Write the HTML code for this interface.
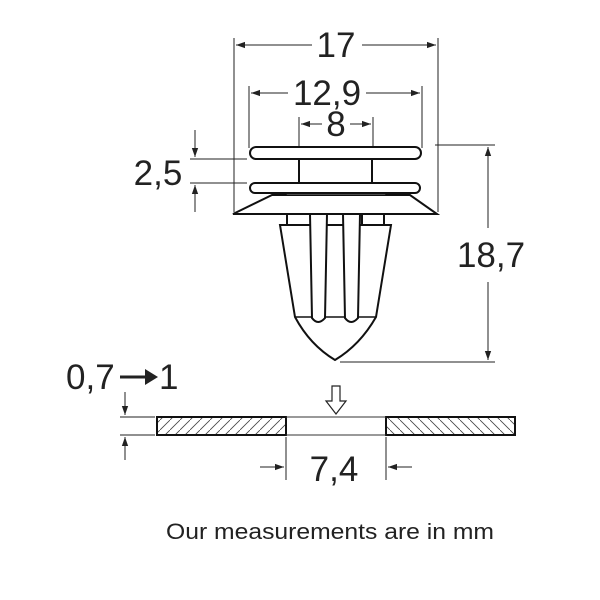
<!DOCTYPE html>
<html><head><style>body{margin:0;background:#fff}svg{display:block}text{font-family:"Liberation Sans",sans-serif;fill:#222}</style></head>
<body>
<svg width="600" height="600" viewBox="0 0 600 600" xmlns="http://www.w3.org/2000/svg">
<defs>
<marker id="a" viewBox="0 0 10 10" refX="10" refY="5" markerWidth="9" markerHeight="9" orient="auto-start-reverse"><path d="M0,1.5 L10,5 L0,8.5z" fill="#222"/></marker>
<pattern id="h1" width="10" height="10" patternUnits="userSpaceOnUse"><path d="M0,10 L10,0" stroke="#444" stroke-width="0.8"/></pattern>
<pattern id="h2" width="10" height="10" patternUnits="userSpaceOnUse"><path d="M0,0 L10,10" stroke="#444" stroke-width="0.8"/></pattern>
</defs>
<g stroke="#222" stroke-width="1" fill="none">
<line x1="234" y1="38" x2="234" y2="212"/><line x1="438" y1="38" x2="438" y2="212"/>
<line x1="312" y1="45" x2="236" y2="45" marker-end="url(#a)"/>
<line x1="362" y1="45" x2="436" y2="45" marker-end="url(#a)"/>
<line x1="249" y1="86" x2="249" y2="148"/><line x1="422" y1="86" x2="422" y2="148"/>
<line x1="288" y1="93" x2="251" y2="93" marker-end="url(#a)"/>
<line x1="366" y1="93" x2="420" y2="93" marker-end="url(#a)"/>
<line x1="299" y1="117" x2="299" y2="160"/><line x1="373" y1="117" x2="373" y2="160"/>
<line x1="322" y1="124" x2="301" y2="124" marker-end="url(#a)"/>
<line x1="350" y1="124" x2="371" y2="124" marker-end="url(#a)"/>
<line x1="190" y1="159" x2="247" y2="159"/><line x1="190" y1="183" x2="247" y2="183"/>
<line x1="195" y1="130" x2="195" y2="157" marker-end="url(#a)"/>
<line x1="195" y1="212" x2="195" y2="185" marker-end="url(#a)"/>
<line x1="435" y1="145" x2="495" y2="145"/><line x1="340" y1="362" x2="495" y2="362"/>
<line x1="488" y1="228" x2="488" y2="147" marker-end="url(#a)"/>
<line x1="488" y1="282" x2="488" y2="360" marker-end="url(#a)"/>
<line x1="120" y1="417" x2="155" y2="417"/><line x1="120" y1="435" x2="155" y2="435"/>
<line x1="125" y1="392" x2="125" y2="415" marker-end="url(#a)"/>
<line x1="125" y1="460" x2="125" y2="437" marker-end="url(#a)"/>
<line x1="286" y1="437" x2="286" y2="480"/><line x1="386" y1="437" x2="386" y2="480"/>
<line x1="260" y1="467" x2="284" y2="467" marker-end="url(#a)"/>
<line x1="412" y1="467" x2="388" y2="467" marker-end="url(#a)"/>
</g>
<g stroke="#111" stroke-width="2" fill="#fff">
<path d="M287,214 L287,227 L311,227 L311,214 M362,214 L362,227 L384,227 L384,214"/>
<path d="M280,225 L391,225 L376,317 Q360,345 335,360 Q310,345 295,317 Z"/>
<line x1="295" y1="317" x2="376" y2="317" stroke-width="1.5"/>
<path d="M310,214 L312,318 Q318,326 325,318 L327,214 M343,214 L345,318 Q351,326 358,318 L360,214" />
<path d="M272,195 L410,195 L437,214 L233,214 Z"/>
<rect x="286" y="191" width="100" height="4" stroke-width="1.5"/>
<rect x="299" y="158" width="73" height="26"/>
<rect x="250" y="147" width="171" height="12" rx="6"/>
<rect x="250" y="183" width="170" height="10" rx="5"/>
</g>
<rect x="157" y="417" width="129" height="18" fill="url(#h1)" stroke="#111" stroke-width="2"/>
<rect x="386" y="417" width="129" height="18" fill="url(#h2)" stroke="#111" stroke-width="2"/>
<line x1="286" y1="417" x2="386" y2="417" stroke="#333"/><line x1="286" y1="435" x2="386" y2="435" stroke="#333"/>
<path d="M332,386 L340,386 L340,401 L346,401 L336,414 L326,401 L332,401 Z" fill="#fff" stroke="#222" stroke-width="1.2"/>
<g font-size="35">
<text x="336" y="57" text-anchor="middle">17</text>
<text x="327" y="105" text-anchor="middle">12,9</text>
<text x="336" y="136" text-anchor="middle">8</text>
<text x="158" y="185" text-anchor="middle">2,5</text>
<text x="491" y="267" text-anchor="middle">18,7</text>
<text x="66" y="389">0,7</text>
<text x="159" y="389">1</text>
<text x="334" y="481" text-anchor="middle">7,4</text>
</g>
<line x1="120" y1="377" x2="148" y2="377" stroke="#222" stroke-width="3"/>
<path d="M145,369 L158,377 L145,385Z" fill="#222"/>
<text x="166" y="539" font-size="22" textLength="328" lengthAdjust="spacingAndGlyphs">Our measurements are in mm</text>
</svg>
</body></html>
